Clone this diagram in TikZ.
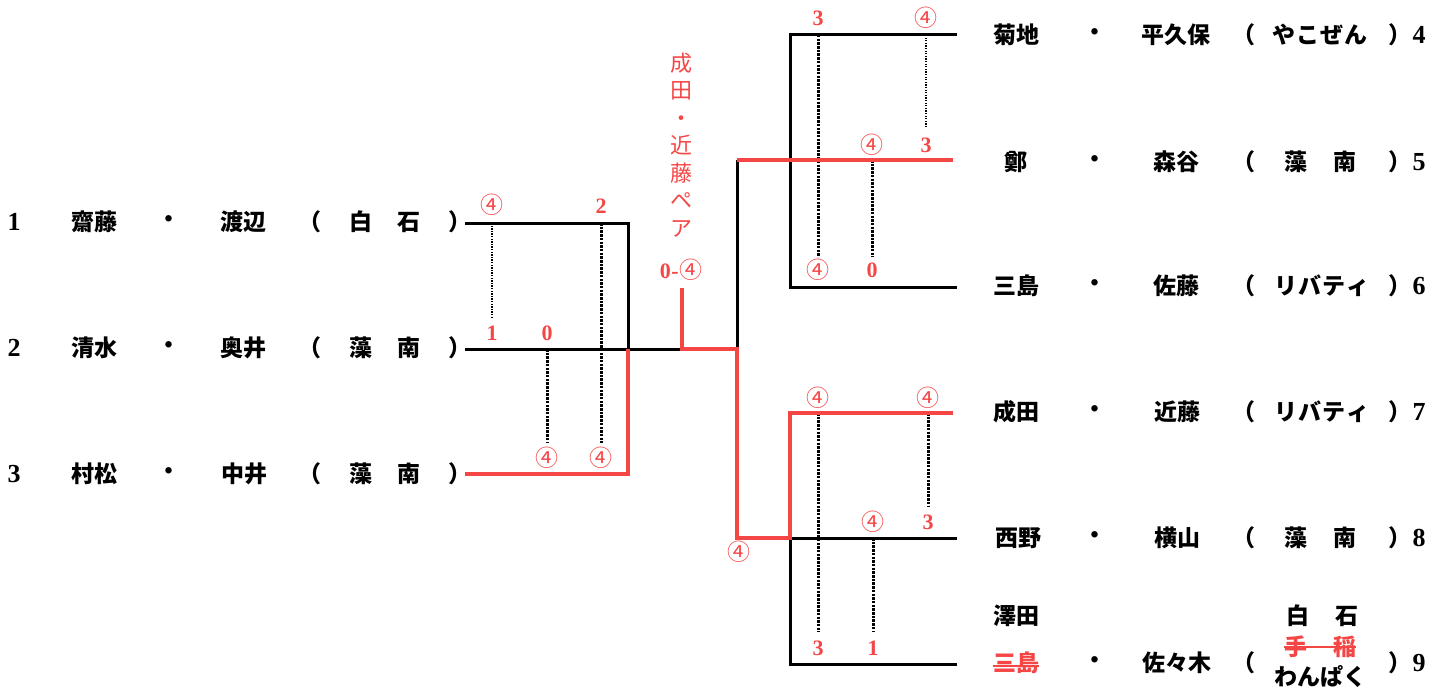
\documentclass[tikz,border=0pt]{standalone}
\usepackage{fontspec}
\newfontfamily\cjk{Noto Sans CJK JP}
\newfontfamily\dig{Liberation Serif}
\definecolor{wred}{RGB}{245,70,70}
\begin{document}
\begin{tikzpicture}[x=1pt,y=-1pt,
  jp/.style={font=\cjk\bfseries\fontsize{23}{23}\selectfont, inner sep=0pt},
  lat/.style={font=\dig\bfseries\fontsize{26}{26}\selectfont, inner sep=0pt},
  rj/.style={font=\cjk\fontsize{22}{27.5}\selectfont, text=wred, inner sep=0pt, align=center},
  rn/.style={font=\dig\bfseries\fontsize{22}{22}\selectfont, text=wred, inner sep=0pt},
  rc/.style={font=\cjk\fontsize{23}{23}\selectfont, text=wred, inner sep=0pt},
  bl/.style={line width=3pt, black},
  wl/.style={line width=4.2pt, wred},
  sc/.style={line width=3pt, dash pattern=on 2.5pt off 1.2pt},
  sd/.style={line width=2.8pt, dash pattern=on 1.3pt off 1.3pt},
  strike/.style={wred, line width=1.4pt},
]
\useasboundingbox (0,0) rectangle (1446,693);

% ---------- left entries ----------
\node[lat] (n1) at (14,222) {1};
\node[jp] (a1) at (94,222) {齋藤};
\node[jp] (d1) at (169,222) {・};
\node[jp] (b1) at (243,222) {渡辺};
\node[jp] (l1) at (310,222) {（};
\node[jp] (t1) at (385,222) {白\hspace{26pt}石};
\node[jp] (r1) at (460,222) {）};

\node[lat] (n2) at (14,348) {2};
\node[jp] (a2) at (94,348) {清水};
\node[jp] (d2) at (169,348) {・};
\node[jp] (b2) at (243,348) {奥井};
\node[jp] (l2) at (310,348) {（};
\node[jp] (t2) at (385,348) {藻\hspace{26pt}南};
\node[jp] (r2) at (460,348) {）};

\node[lat] (n3) at (14,474) {3};
\node[jp] (a3) at (94,474) {村松};
\node[jp] (d3) at (169,474) {・};
\node[jp] (b3) at (244,474) {中井};
\node[jp] (l3) at (310,474) {（};
\node[jp] (t3) at (385,474) {藻\hspace{26pt}南};
\node[jp] (r3) at (460,474) {）};

% ---------- right entries ----------
\node[jp] (a4) at (1016,35) {菊地};
\node[jp] (d4) at (1095,35) {・};
\node[jp] (b4) at (1176,35) {平久保};
\node[jp] (l4) at (1244,35) {（};
\node[jp] (t4) at (1320,35) {や\hspace{1pt}こ\hspace{1pt}ぜ\hspace{1pt}ん};
\node[jp] (r4) at (1400,35) {）};
\node[lat] (n4) at (1419,35) {4};

\node[jp] (a5) at (1016,162) {鄭};
\node[jp] (d5) at (1095,162) {・};
\node[jp] (b5) at (1176,162) {森谷};
\node[jp] (l5) at (1244,162) {（};
\node[jp] (t5) at (1320,162) {藻\hspace{26pt}南};
\node[jp] (r5) at (1400,162) {）};
\node[lat] (n5) at (1419,162) {5};

\node[jp] (a6) at (1016,286) {三島};
\node[jp] (d6) at (1095,286) {・};
\node[jp] (b6) at (1176,286) {佐藤};
\node[jp] (l6) at (1244,286) {（};
\node[jp] (t6) at (1322,286) {リ\hspace{1pt}バ\hspace{1pt}テ\hspace{1pt}ィ};
\node[jp] (r6) at (1400,286) {）};
\node[lat] (n6) at (1419,286) {6};

\node[jp] (a7) at (1016,412) {成田};
\node[jp] (d7) at (1095,412) {・};
\node[jp] (b7) at (1177,412) {近藤};
\node[jp] (l7) at (1244,412) {（};
\node[jp] (t7) at (1322,412) {リ\hspace{1pt}バ\hspace{1pt}テ\hspace{1pt}ィ};
\node[jp] (r7) at (1400,412) {）};
\node[lat] (n7) at (1419,412) {7};

\node[jp] (a8) at (1018,538) {西野};
\node[jp] (d8) at (1095,538) {・};
\node[jp] (b8) at (1177,538) {横山};
\node[jp] (l8) at (1244,538) {（};
\node[jp] (t8) at (1320,538) {藻\hspace{26pt}南};
\node[jp] (r8) at (1400,538) {）};
\node[lat] (n8) at (1419,538) {8};

\node[jp] (a9x) at (1016,616) {澤田};
\node[jp] (t9x) at (1322,616) {白\hspace{26pt}石};
\node[jp, text=wred] (a9) at (1016,663) {三島};
\node[jp] (d9) at (1095,663) {・};
\node[jp] (b9) at (1177,663) {佐々木};
\node[jp] (l9) at (1244,663) {（};
\node[jp, text=wred] (t9s) at (1320,647) {手\hspace{26pt}稲};
\node[jp] (t9) at (1320,677) {わんぱく};
\node[jp] (r9) at (1400,663) {）};
\node[lat] (n9) at (1419,663) {9};
\draw[strike] ([yshift=-3pt]a9.west) -- ([yshift=-3pt]a9.east);
\draw[strike] (t9s.west) -- (t9s.east);

% ---------- bracket coordinates ----------
\coordinate (p1) at (465,223);
\coordinate (p2) at (465,349);
\coordinate (p3) at (465,474);
\coordinate (q1) at (628,223);
\coordinate (q2) at (628,349);
\coordinate (q3) at (628,474);
\coordinate (m0) at (682,288);
\coordinate (m1) at (682,349);
\coordinate (m2) at (737,349);
\coordinate (m3) at (737,160);
\coordinate (m4) at (737,538);
\coordinate (u4) at (957,35);
\coordinate (u5) at (953,160);
\coordinate (u6) at (957,287);
\coordinate (k4) at (790,35);
\coordinate (k6) at (790,287);
\coordinate (u7) at (953,413);
\coordinate (u8) at (957,538);
\coordinate (u9) at (957,664);
\coordinate (k7) at (790,413);
\coordinate (k8) at (790,538);
\coordinate (k9) at (790,664);

% ---------- score ticks ----------
\draw[sd] (492,223) coordinate (s1a) -- (492,318) coordinate (s1b);
\draw[sc] (547,349) coordinate (s2a) -- (547,443) coordinate (s2b);
\draw[sc] (601,223) coordinate (s3a) -- (601,443) coordinate (s3b);
\draw[sc] (818,35) coordinate (s4a) -- (818,257) coordinate (s4b);
\draw[sc] (872,160) coordinate (s5a) -- (872,257) coordinate (s5b);
\draw[sd] (926,35) coordinate (s6a) -- (926,128) coordinate (s6b);
\draw[sc] (818,413) coordinate (s7a) -- (818,632) coordinate (s7b);
\draw[sc] (873,538) coordinate (s8a) -- (873,632) coordinate (s8b);
\draw[sc] (928,413) coordinate (s9a) -- (928,507) coordinate (s9b);

% ---------- black bracket lines ----------
\draw[bl] (p1) -- (q1) -- (q2);
\draw[bl] (p2) -- (m1);
\draw[bl] (m2) -- (m3);
\draw[bl] (u4) -- (k4) -- (k6) -- (u6);
\draw[bl] (u8) -- (k8) -- (k9) -- (u9);

% ---------- red winner lines ----------
\draw[wl] (p3) -- (q3) -- (q2);
\draw[wl] (m0) -- (m1) -- (m2) -- (m4) -- (k8) -- (k7) -- (u7);
\draw[wl] (m3) -- (u5);

% ---------- scores ----------
\node[rc] (c1) at (492,205) {④};
\node[rn] (c2) at (492,333) {1};
\node[rn] (c3) at (547,333) {0};
\node[rc] (c4) at (547,458) {④};
\node[rn] (c5) at (601,206) {2};
\node[rc] (c6) at (601,458) {④};
\node[rn] (c7) at (818,18) {3};
\node[rc] (c8) at (926,18) {④};
\node[rc] (c9) at (872,145) {④};
\node[rn] (c10) at (926,145) {3};
\node[rc] (c11) at (818,270) {④};
\node[rn] (c12) at (872,270) {0};
\node[rc] (c13) at (818,398) {④};
\node[rc] (c14) at (928,398) {④};
\node[rc] (c15) at (873,522) {④};
\node[rn] (c16) at (928,522) {3};
\node[rn] (c17) at (818,648) {3};
\node[rn] (c18) at (873,648) {1};
\node[rc] (c19) at (739,552) {④};

% ---------- champion ----------
\node[rj] (champ) at (681,145) {成\\田\\・\\近\\藤\\ペ\\ア};
\node[rn] (final) at (681,270) {0\kern0.5pt-\kern0.5pt{\cjk\mdseries\fontsize{23}{23}\selectfont ④}};
\end{tikzpicture}
\end{document}
